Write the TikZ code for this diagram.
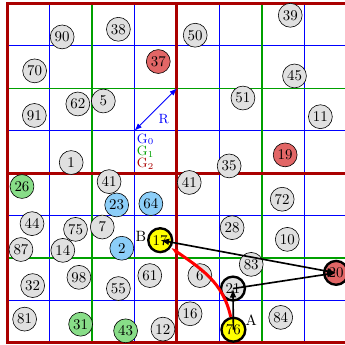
\documentclass[tikz,border=0pt]{standalone}
\usetikzlibrary{arrows.meta}
\definecolor{gridred}{RGB}{170,0,0}
\definecolor{gridgreen}{RGB}{0,160,0}
\definecolor{nodegray}{RGB}{224,224,224}
\definecolor{nodered}{RGB}{226,102,102}
\definecolor{nodeblue}{RGB}{140,206,248}
\definecolor{nodegreen}{RGB}{136,221,136}
\definecolor{nodeyellow}{RGB}{255,255,0}
\begin{document}
\begin{tikzpicture}[
  pt/.style={circle, draw=black, fill=nodegray, minimum size=16pt, inner sep=0.5pt, line width=0.4pt},
  ptred/.style={pt, fill=nodered},
  ptblue/.style={pt, fill=nodeblue},
  ptgreen/.style={pt, fill=nodegreen},
  hl/.style={line width=1.6pt},
  edge/.style={line width=1.1pt, black},
  tag/.style={font=\small, anchor=west, inner sep=0pt},
]
\useasboundingbox (-0.17,-0.05) rectangle (7.96,8.08);
% grid
\foreach \t in {1,3,5,7} {
  \draw[blue, line width=0.5pt] (\t,0) -- (\t,8);
  \draw[blue, line width=0.5pt] (0,\t) -- (8,\t);
}
\foreach \t in {2,6} {
  \draw[gridgreen, line width=1pt] (\t,0) -- (\t,8);
  \draw[gridgreen, line width=1pt] (0,\t) -- (8,\t);
}
\draw[gridred, line width=2pt] (0,0) rectangle (8,8);
\draw[gridred, line width=2pt] (4,0) -- (4,8);
\draw[gridred, line width=2pt] (0,4) -- (8,4);
% radius arrow and legend
\coordinate (r0) at (3,5);
\coordinate (r1) at (4,6);
\draw[blue, line width=0.6pt, {Latex[length=5pt]}-{Latex[length=5pt]}] (r0) -- (r1);
\node[blue, font=\small, inner sep=0pt] (Rlab) at (3.69,5.28) {R};
\node[tag, blue] (g0) at (3.05,4.80) {G$_0$};
\node[tag, gridgreen] (g1) at (3.05,4.50) {G$_1$};
\node[tag, gridred] (g2) at (3.05,4.22) {G$_2$};
% nodes
\node[pt] (n90) at (1.295,7.21) {90};
\node[pt] (n38) at (2.62,7.39) {38};
\node[ptred] (n37) at (3.56,6.63) {37};
\node[pt] (n70) at (0.646,6.41) {70};
\node[pt] (n62) at (1.664,5.63) {62};
\node[pt] (n5) at (2.265,5.70) {5};
\node[pt] (n91) at (0.639,5.36) {91};
\node[pt] (n1) at (1.508,4.25) {1};
\node[pt] (n41a) at (2.40,3.80) {41};
\node[pt] (n50) at (4.43,7.25) {50};
\node[pt] (n39) at (6.67,7.72) {39};
\node[pt] (n45) at (6.77,6.29) {45};
\node[pt] (n51) at (5.555,5.77) {51};
\node[pt] (n11) at (7.38,5.33) {11};
\node[ptred] (n19) at (6.55,4.43) {19};
\node[pt] (n35) at (5.23,4.17) {35};
\node[pt] (n41b) at (4.29,3.78) {41};
\node[ptgreen] (n26) at (0.348,3.685) {26};
\node[ptblue] (n23) at (2.58,3.25) {23};
\node[ptblue] (n64) at (3.385,3.28) {64};
\node[pt] (n44) at (0.585,2.81) {44};
\node[pt] (n75) at (1.61,2.675) {75};
\node[pt] (n7) at (2.24,2.73) {7};
\node[pt] (n87) at (0.324,2.20) {87};
\node[pt] (n14) at (1.31,2.18) {14};
\node[ptblue] (n2) at (2.70,2.23) {2};
\node[pt] (n32) at (0.60,1.35) {32};
\node[pt] (n98) at (1.69,1.545) {98};
\node[pt] (n61) at (3.36,1.586) {61};
\node[pt] (n55) at (2.62,1.28) {55};
\node[pt] (n81) at (0.41,0.56) {81};
\node[ptgreen] (n31) at (1.73,0.44) {31};
\node[ptgreen] (n43) at (2.79,0.284) {43};
\node[pt] (n12) at (3.67,0.324) {12};
\node[pt] (n72) at (6.48,3.385) {72};
\node[pt] (n28) at (5.30,2.715) {28};
\node[pt] (n10) at (6.60,2.44) {10};
\node[pt] (n83) at (5.75,1.85) {83};
\node[pt] (n6) at (4.54,1.586) {6};
\node[pt] (n16) at (4.31,0.686) {16};
\node[pt] (n84) at (6.445,0.60) {84};
\node[pt, hl] (n21) at (5.32,1.28) {21};
\node[ptred, hl] (n20) at (7.75,1.65) {20};
\node[pt, hl, fill=nodeyellow] (n17) at (3.605,2.42) {17};
\node[pt, hl, fill=nodeyellow] (n76) at (5.33,0.31) {76};
\node[inner sep=0pt] (labB) at (3.15,2.52) {B};
\node[inner sep=0pt] (labA) at (5.75,0.53) {A};
% path
\draw[red, line width=2pt, -{Latex[length=5pt]}] (n76) to[out=102, in=-35] (n17);
\draw[edge, {Latex[length=6pt]}-{Latex[length=6pt]}] (n17.center) -- (n20.center);
\draw[edge, -{Latex[length=6pt]}] (n21.center) -- (n20.center);
\draw[edge, -{Latex[length=6pt]}] (n76.center) -- (n21.center);
\end{tikzpicture}
\end{document}
